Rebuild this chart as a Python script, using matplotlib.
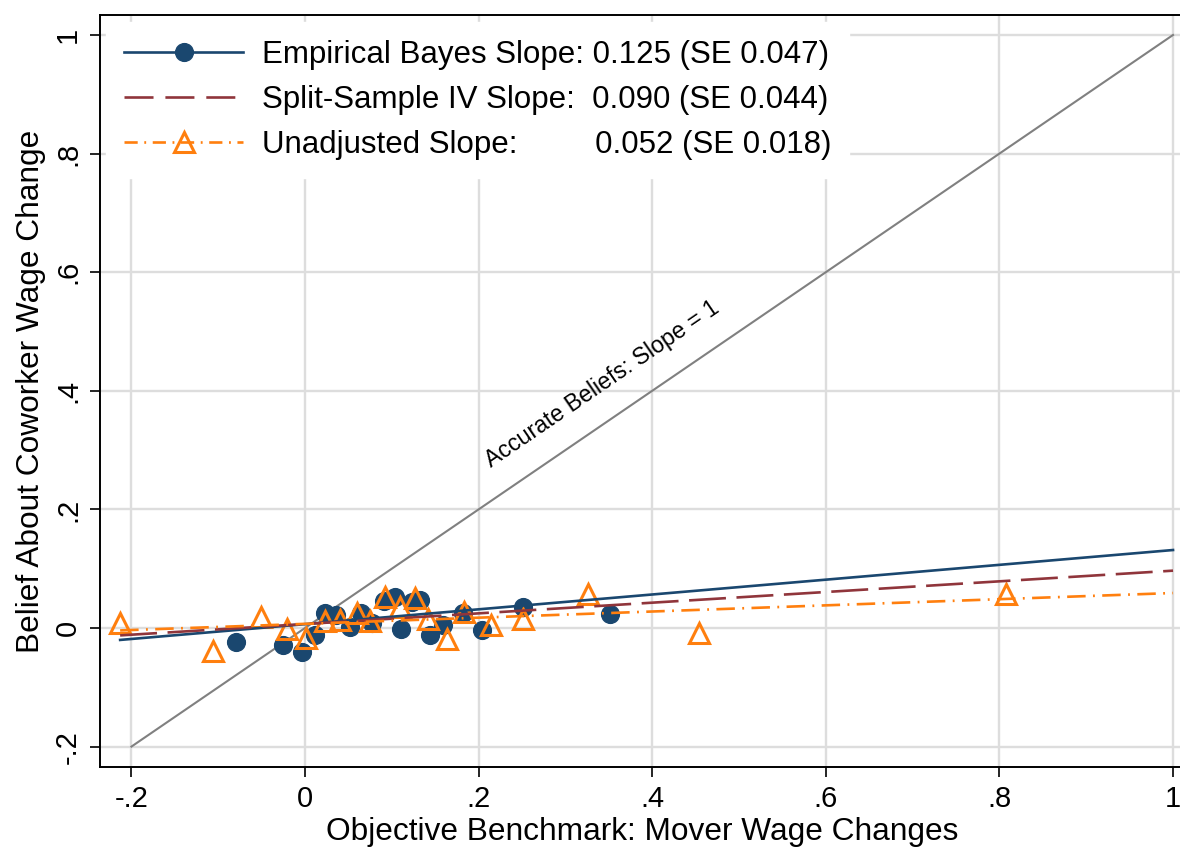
import matplotlib
matplotlib.use('Agg')
import matplotlib.pyplot as plt
from matplotlib.lines import Line2D
import numpy as np

plt.rcParams['font.family'] = ['Liberation Sans', 'DejaVu Sans']

# binned scatter: empirical Bayes
eb_x = [-0.079, -0.025, -0.004, 0.012, 0.023, 0.036, 0.052, 0.065, 0.077, 0.091,
        0.104, 0.111, 0.123, 0.132, 0.144, 0.159, 0.182, 0.204, 0.251, 0.351]
eb_y = [-0.023, -0.029, -0.041, -0.012, 0.025, 0.022, 0.002, 0.025, 0.008, 0.045,
        0.053, -0.002, 0.044, 0.047, -0.012, 0.005, 0.025, -0.003, 0.035, 0.024]

# binned scatter: unadjusted
un_x = [-0.213, -0.106, -0.051, -0.021, 0.001, 0.023, 0.040, 0.060, 0.075, 0.092,
        0.109, 0.127, 0.142, 0.163, 0.183, 0.214, 0.251, 0.326, 0.454, 0.808]
un_y = [0.008, -0.039, 0.019, -0.001, -0.017, 0.011, 0.013, 0.025, 0.012, 0.053,
        0.035, 0.051, 0.016, -0.018, 0.027, 0.005, 0.015, 0.058, -0.009, 0.058]

# fitted lines
fit_names = ['Empirical Bayes Slope: 0.125 (SE 0.047)',
             'Split-Sample IV Slope:  0.090 (SE 0.044)',
             'Unadjusted Slope:         0.052 (SE 0.018)']
slopes = [0.125, 0.090, 0.052]
intercepts = [0.0065, 0.0067, 0.007]
fit_range = [-0.213, 1.0]

navy, maroon, orange = '#1a476f', '#90353b', '#ff7f0e'

fig = plt.figure(figsize=(11.8, 8.48), dpi=100)
ax = fig.add_axes([100/1180, 81/848, 1085/1180, 752/848])
ax.set_xlim(-0.2362, 1.0138)
ax.set_ylim(-0.2344, 1.0337)

ticks = [-0.2, 0, 0.2, 0.4, 0.6, 0.8, 1]
tick_labels = ['-.2', '0', '.2', '.4', '.6', '.8', '1']
ax.set_xticks(ticks)
ax.set_xticklabels(tick_labels)
ax.set_yticks(ticks)
ax.set_yticklabels(tick_labels, rotation=90, va='center')
ax.grid(True, color='#dddddd', lw=1.7, zorder=0)
ax.set_axisbelow(True)
ax.tick_params(length=7, width=1.2, labelsize=21, direction='out', pad=6)
for s in ax.spines.values():
    s.set_linewidth(1.4)
    s.set_color('black')

# 45 degree line
ax.plot([-0.2, 1], [-0.2, 1], color='#808080', lw=1.5, zorder=2)
ax.text(0.215, 0.27, 'Accurate Beliefs: Slope = 1', fontsize=16.7, rotation=45,
        transform_rotates_text=True, rotation_mode='anchor',
        ha='left', va='baseline', zorder=6)

ax.plot(eb_x, eb_y, 'o', color=navy, ms=12.8, mec=navy, zorder=3)
ax.plot(un_x, un_y, '^', color=orange, ms=14.5, mfc='none', mec=orange, mew=2.2, zorder=4)

xs = np.array(fit_range)
styles = ['-', (0, (14, 4)), (0, (7, 2.8, 0.7, 2.8))]
colors = [navy, maroon, orange]
for b, a, st, c in zip(slopes, intercepts, styles, colors):
    ax.plot(xs, a + b * xs, ls=st, color=c, lw=1.9, zorder=5)

handles = [
    Line2D([], [], color=navy, lw=1.9, marker='o', ms=12.8),
    Line2D([], [], color=maroon, lw=1.9, ls=(0, (11, 4.5))),
    Line2D([], [], color=orange, lw=1.9, ls=(0, (5, 2.5, 0.7, 2.5)), marker='^', ms=14.5,
           mfc='none', mew=2.2),
]
leg = ax.legend(handles, fit_names, loc='upper left', bbox_to_anchor=(106/1180, 1 - 22/848),
                bbox_transform=fig.transFigure, fontsize=22.5, frameon=True,
                fancybox=False, framealpha=1, facecolor='white', edgecolor='white',
                handlelength=3.8, handletextpad=0.6, labelspacing=0.47,
                borderpad=0.58, borderaxespad=0)
leg.set_zorder(7)

ax.set_xlabel('Objective Benchmark: Mover Wage Changes', fontsize=22.8, labelpad=3)
ax.set_ylabel('Belief About Coworker Wage Change', fontsize=22.8, labelpad=6)

fig.savefig('out.png', dpi=100, facecolor='white')
